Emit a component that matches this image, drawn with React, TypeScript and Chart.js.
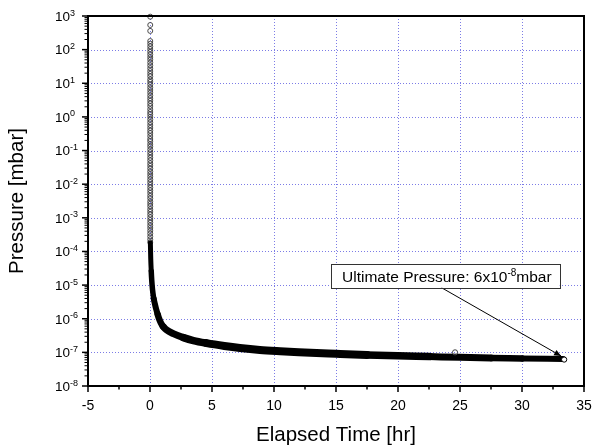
import { useEffect, useRef } from "react";
import { Chart, registerables } from "chart.js";

Chart.register(...registerables);

const FONT = "'Liberation Sans', Arial, Helvetica, sans-serif";

// Axis definitions
const X_MIN = -5;
const X_MAX = 35;
const Y_MIN = 1e-8;
const Y_MAX = 1e3;
const X_TICKS = [-5, 0, 5, 10, 15, 20, 25, 30, 35];
const X_MINOR_TICKS = [-2.5, 2.5, 7.5, 12.5, 17.5, 22.5, 27.5, 32.5];
const Y_TICK_EXPONENTS = [-8, -7, -6, -5, -4, -3, -2, -1, 0, 1, 2, 3];
const X_TITLE = "Elapsed Time [hr]";
const Y_TITLE = "Pressure [mbar]";

// Vent/pump-down column recorded at t ~ 0 hr
const COLUMN_TIME = 0.02;
const COLUMN_PRESSURE = [
  955, 540, 360, 180, 150, 125, 104, 86, 72, 60, 50, 41, 34, 28, 23, 19, 16, 13,
  11, 9.2, 7.6, 6.3, 5.2, 4.3, 3.6, 3.0, 2.5, 2.1, 1.7, 1.4, 1.2, 1.0, 0.83,
  0.69, 0.57, 0.47, 0.39, 0.33, 0.27, 0.22, 0.19, 0.155, 0.13, 0.107, 0.089,
  0.074, 0.061, 0.051, 0.042, 0.035, 0.029, 0.024, 0.02, 0.0166, 0.0138,
  0.0115, 0.0095, 0.0079, 0.0066, 0.0055, 0.0045, 0.0038, 0.0031, 0.0026,
  0.0022, 0.0018, 0.0015, 0.00125, 0.00104, 0.00086, 0.00072, 0.0006, 0.0005,
  0.00041, 0.00034, 0.00028, 0.00023, 0.00019,
];

// Dense pump-down curve (hours, mbar)
const CURVE_TIME = [
  0.03, 0.06, 0.1, 0.14, 0.2, 0.3, 0.4, 0.5, 0.62, 0.73, 0.88, 1.07, 1.35, 1.88,
  2.7, 3.5, 4.56, 6, 7.25, 8.86, 10.5, 12, 15, 17.5, 20, 22.5, 25, 27.5, 30,
  33.3,
];
const CURVE_PRESSURE = [
  1.8e-4, 6e-5, 2.6e-5, 1.4e-5, 7.5e-6, 4e-6, 2.7e-6, 1.9e-6, 1.35e-6, 1e-6,
  7.5e-7, 5.8e-7, 4.6e-7, 3.6e-7, 2.75e-7, 2.25e-7, 1.88e-7, 1.55e-7, 1.35e-7,
  1.18e-7, 1.08e-7, 1.01e-7, 9.1e-8, 8.4e-8, 7.9e-8, 7.5e-8, 7.1e-8, 6.8e-8,
  6.6e-8, 6.3e-8,
];

// Isolated readings
const OUTLIER_TIME = [24.6];
const OUTLIER_PRESSURE = [1.0e-7];
const END_TIME = [33.4];
const END_PRESSURE = [6.1e-8];

// Annotation
const NOTE_TEXT = "Ultimate Pressure: 6x10";
const NOTE_EXP = "-8";
const NOTE_UNIT = "mbar";
const NOTE_BOX_TIME = 14.6;
const NOTE_BOX_TOP_PRESSURE = 4.2e-5;
const NOTE_LINE_START_TIME = 23.5;
const NOTE_TARGET_TIME = 33.15;
const NOTE_TARGET_PRESSURE = 7.8e-8;

const GRID_COLOR = "#7c7ce6";

const framePlugin = {
  id: "originFrame",
  beforeDatasetsDraw(chart: any) {
    const { ctx, chartArea: a, scales } = chart;
    const xs = scales.x;
    const ys = scales.y;
    ctx.save();
    ctx.strokeStyle = GRID_COLOR;
    ctx.lineWidth = 1;
    ctx.setLineDash([1, 2]);
    for (const t of X_TICKS) {
      if (t <= X_MIN || t >= X_MAX) continue;
      const x = Math.round(xs.getPixelForValue(t)) + 0.5;
      ctx.beginPath();
      ctx.moveTo(x, a.top);
      ctx.lineTo(x, a.bottom);
      ctx.stroke();
    }
    for (const e of Y_TICK_EXPONENTS) {
      const v = Math.pow(10, e);
      if (v <= Y_MIN || v >= Y_MAX) continue;
      const y = Math.round(ys.getPixelForValue(v)) + 0.5;
      ctx.beginPath();
      ctx.moveTo(a.left, y);
      ctx.lineTo(a.right, y);
      ctx.stroke();
    }
    ctx.restore();
  },
  afterDatasetsDraw(chart: any) {
    const { ctx, chartArea: a, scales } = chart;
    const xs = scales.x;
    const ys = scales.y;
    ctx.save();
    ctx.setLineDash([]);
    ctx.strokeStyle = "#000";
    ctx.fillStyle = "#000";

    // frame
    ctx.lineWidth = 2;
    ctx.strokeRect(a.left, a.top, a.right - a.left, a.bottom - a.top);

    // x ticks
    for (const t of X_TICKS) {
      const x = xs.getPixelForValue(t);
      ctx.lineWidth = 1.5;
      ctx.beginPath();
      ctx.moveTo(x, a.bottom);
      ctx.lineTo(x, a.bottom + 6);
      ctx.stroke();
    }
    for (const t of X_MINOR_TICKS) {
      const x = xs.getPixelForValue(t);
      ctx.lineWidth = 1.5;
      ctx.beginPath();
      ctx.moveTo(x, a.bottom);
      ctx.lineTo(x, a.bottom + 3.5);
      ctx.stroke();
    }
    // y ticks (major + log minor)
    for (const e of Y_TICK_EXPONENTS) {
      const base = Math.pow(10, e);
      const y = ys.getPixelForValue(base);
      ctx.lineWidth = 1.5;
      ctx.beginPath();
      ctx.moveTo(a.left, y);
      ctx.lineTo(a.left - 6, y);
      ctx.stroke();
      if (e < 3) {
        for (let m = 2; m <= 9; m++) {
          const ym = ys.getPixelForValue(base * m);
          ctx.lineWidth = 1;
          ctx.beginPath();
          ctx.moveTo(a.left, ym);
          ctx.lineTo(a.left - 3.5, ym);
          ctx.stroke();
        }
      }
    }

    // x tick labels
    ctx.font = `14px ${FONT}`;
    ctx.textAlign = "center";
    ctx.textBaseline = "alphabetic";
    for (const t of X_TICKS) {
      ctx.fillText(String(t), xs.getPixelForValue(t), a.bottom + 24);
    }
    // y tick labels 10^n
    for (const e of Y_TICK_EXPONENTS) {
      const y = ys.getPixelForValue(Math.pow(10, e));
      ctx.font = `13.5px ${FONT}`;
      ctx.textAlign = "right";
      ctx.fillText("10", a.left - 18, y + 4.8);
      ctx.font = `9px ${FONT}`;
      ctx.textAlign = "left";
      ctx.fillText(String(e), a.left - 18, y - 0.5);
    }

    // titles
    ctx.font = `20.5px ${FONT}`;
    ctx.textAlign = "center";
    ctx.fillText(X_TITLE, (a.left + a.right) / 2, a.bottom + 55);
    ctx.save();
    ctx.translate(22.7, (a.top + a.bottom) / 2);
    ctx.rotate(-Math.PI / 2);
    ctx.fillText(Y_TITLE, 0, 0);
    ctx.restore();

    // annotation box
    const bx = xs.getPixelForValue(NOTE_BOX_TIME);
    const by = ys.getPixelForValue(NOTE_BOX_TOP_PRESSURE);
    ctx.font = `15.5px ${FONT}`;
    const w1 = ctx.measureText(NOTE_TEXT).width;
    ctx.font = `10px ${FONT}`;
    const w2 = ctx.measureText(NOTE_EXP).width;
    ctx.font = `15.5px ${FONT}`;
    const w3 = ctx.measureText(NOTE_UNIT).width;
    const bw = w1 + w2 + w3 + 19;
    const bh = 23.5;

    // leader line + arrow
    const sx = xs.getPixelForValue(NOTE_LINE_START_TIME);
    const sy = by + bh;
    const tx = xs.getPixelForValue(NOTE_TARGET_TIME);
    const ty = ys.getPixelForValue(NOTE_TARGET_PRESSURE);
    ctx.lineWidth = 1;
    ctx.beginPath();
    ctx.moveTo(sx, sy);
    ctx.lineTo(tx, ty);
    ctx.stroke();
    const ang = Math.atan2(ty - sy, tx - sx);
    const L = 7;
    const W = 3;
    ctx.beginPath();
    ctx.moveTo(tx, ty);
    ctx.lineTo(tx - L * Math.cos(ang) + W * Math.sin(ang), ty - L * Math.sin(ang) - W * Math.cos(ang));
    ctx.lineTo(tx - L * Math.cos(ang) - W * Math.sin(ang), ty - L * Math.sin(ang) + W * Math.cos(ang));
    ctx.closePath();
    ctx.fill();

    ctx.fillStyle = "#fff";
    ctx.fillRect(bx, by, bw, bh);
    ctx.strokeStyle = "#333";
    ctx.lineWidth = 1;
    ctx.strokeRect(Math.round(bx) + 0.5, Math.round(by) + 0.5, Math.round(bw), Math.round(bh));
    ctx.fillStyle = "#000";
    ctx.textAlign = "left";
    const base = by + 17.5;
    let cx = bx + 11;
    ctx.font = `15.5px ${FONT}`;
    ctx.fillText(NOTE_TEXT, cx, base);
    cx += w1;
    ctx.font = `10px ${FONT}`;
    ctx.fillText(NOTE_EXP, cx, base - 6);
    cx += w2;
    ctx.font = `15.5px ${FONT}`;
    ctx.fillText(NOTE_UNIT, cx, base);

    ctx.restore();
  },
};

function bandWidth(t: number): number {
  if (t < 0.1) return 5;
  if (t < 0.3) return 5.5;
  if (t < 0.6) return 6;
  if (t < 1) return 6.5;
  if (t < 2) return 7;
  if (t < 4) return 7.5;
  if (t < 16) return 8;
  if (t < 21) return 7.5;
  if (t < 26) return 7;
  if (t < 29) return 6.5;
  return 6;
}

export default function App() {
  const ref = useRef<HTMLCanvasElement | null>(null);
  useEffect(() => {
    document.body.style.margin = "0";
    const canvas = ref.current;
    if (!canvas) return;
    const columnPts = COLUMN_PRESSURE.map((p) => ({ x: COLUMN_TIME, y: p }));
    const curvePts = CURVE_TIME.map((t, i) => ({ x: t, y: CURVE_PRESSURE[i] }));
    const outlierPts = OUTLIER_TIME.map((t, i) => ({ x: t, y: OUTLIER_PRESSURE[i] }));
    const endPts = END_TIME.map((t, i) => ({ x: t, y: END_PRESSURE[i] }));
    const chart = new Chart(canvas, {
      type: "scatter",
      data: {
        datasets: [
          {
            label: "end",
            data: endPts,
            pointRadius: 2.6,
            pointBorderWidth: 1,
            borderColor: "#000",
            backgroundColor: "#fff",
            showLine: false,
            clip: false as any,
          },
          {
            label: "outlier",
            data: outlierPts,
            pointRadius: 2.6,
            pointBorderWidth: 1,
            borderColor: "#444",
            backgroundColor: "rgba(0,0,0,0)",
            showLine: false,
          },
          {
            label: "curve",
            data: curvePts,
            showLine: true,
            borderColor: "#000",
            borderWidth: 7,
            borderCapStyle: "round",
            borderJoinStyle: "round",
            pointRadius: 0,
            cubicInterpolationMode: "monotone",
            clip: false as any,
            segment: {
              borderWidth: (c: any) => bandWidth(c.p0.parsed.x),
            },
          } as any,
          {
            label: "column",
            data: columnPts,
            pointRadius: 2.5,
            pointBorderWidth: 0.9,
            borderColor: "#3a3a3a",
            backgroundColor: "rgba(0,0,0,0)",
            showLine: false,
            clip: false as any,
          },
        ],
      },
      options: {
        responsive: false,
        animation: false,
        devicePixelRatio: 1,
        events: [],
        layout: { padding: { left: 88, top: 16, right: 8, bottom: 59 } },
        plugins: { legend: { display: false }, tooltip: { enabled: false } },
        scales: {
          x: { type: "linear", min: X_MIN, max: X_MAX, display: false },
          y: { type: "logarithmic", min: Y_MIN, max: Y_MAX, display: false },
        },
      },
      plugins: [framePlugin],
    });
    return () => chart.destroy();
  }, []);
  return (
    <div style={{ position: "fixed", left: 0, top: 0, width: 592, height: 445, background: "#fff" }}>
      <canvas ref={ref} width={592} height={445} style={{ display: "block" }} />
    </div>
  );
}
